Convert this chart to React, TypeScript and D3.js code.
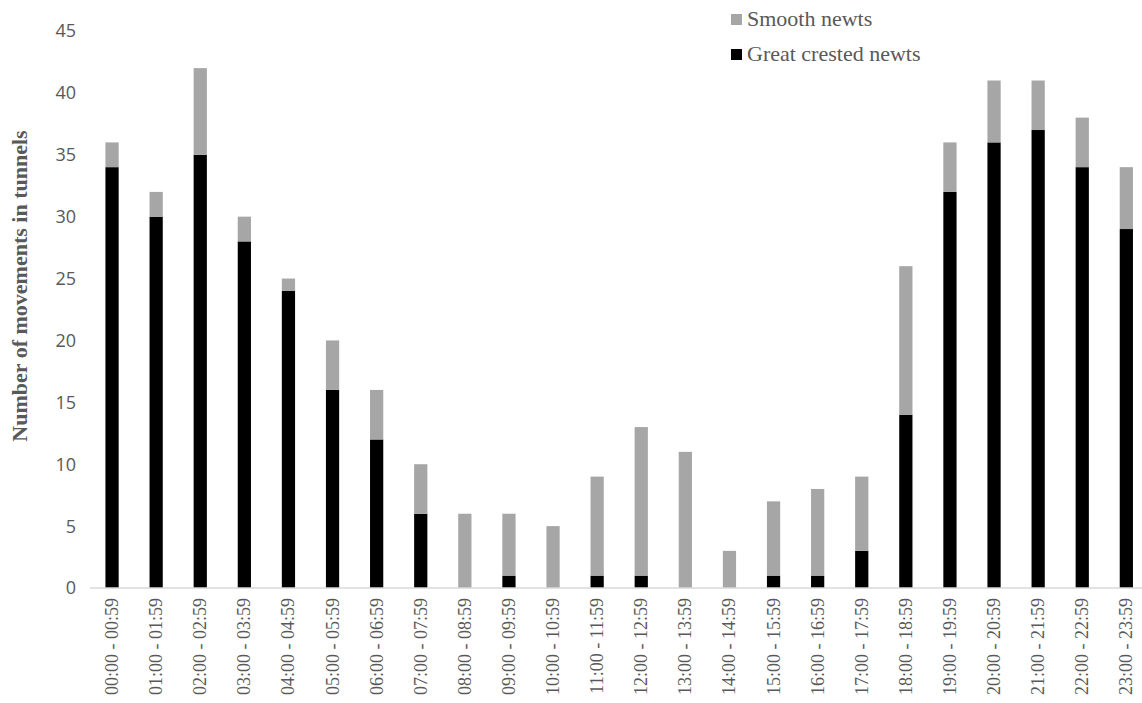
import React from "react";
import * as d3 from "d3";

const categories = [
  "00:00 - 00:59", "01:00 - 01:59", "02:00 - 02:59", "03:00 - 03:59",
  "04:00 - 04:59", "05:00 - 05:59", "06:00 - 06:59", "07:00 - 07:59",
  "08:00 - 08:59", "09:00 - 09:59", "10:00 - 10:59", "11:00 - 11:59",
  "12:00 - 12:59", "13:00 - 13:59", "14:00 - 14:59", "15:00 - 15:59",
  "16:00 - 16:59", "17:00 - 17:59", "18:00 - 18:59", "19:00 - 19:59",
  "20:00 - 20:59", "21:00 - 21:59", "22:00 - 22:59", "23:00 - 23:59",
];
const greatCrested = [34, 30, 35, 28, 24, 16, 12, 6, 0, 1, 0, 1, 1, 0, 0, 1, 1, 3, 14, 32, 36, 37, 34, 29];
const smooth = [2, 2, 7, 2, 1, 4, 4, 4, 6, 5, 5, 8, 12, 11, 3, 6, 7, 6, 12, 4, 5, 4, 4, 5];
const yTicks = [0, 5, 10, 15, 20, 25, 30, 35, 40, 45];
const seriesNames = ["Smooth newts", "Great crested newts"];
const seriesColors = ["#a6a6a6", "#000000"];

const W = 1142;
const H = 703;
const x0 = 90;
const step = 44.1;

export default function App() {
  const x = d3.scaleBand<string>()
    .domain(categories)
    .range([x0, x0 + step * categories.length])
    .paddingInner(0.7)
    .paddingOuter(0.35);
  const y = d3.scaleLinear().domain([0, 45]).range([588, 31]);
  const rows = categories.map((c, i) => ({ c, great: greatCrested[i], smooth: smooth[i] }));
  const stack = d3.stack<any>().keys(["great", "smooth"])(rows);
  const colorByKey: Record<string, string> = { great: seriesColors[1], smooth: seriesColors[0] };
  const textColor = "#595959";

  return (
    <svg width={W} height={H} style={{ position: "absolute", left: 0, top: 0, background: "#fff" }}>
      {yTicks.map((t) => (
        <text key={t} x={76} y={y(t)} dy="0.36em" textAnchor="end"
          fontFamily="'Open Sans', sans-serif" fontSize={18} fill={textColor}>{t}</text>
      ))}
      <text transform={`translate(27,286) rotate(-90)`} textAnchor="middle"
        fontFamily="'Liberation Serif', serif" fontWeight="bold" fontSize={22} fill={textColor}>
        Number of movements in tunnels
      </text>
      {stack.map((layer) => (
        <g key={layer.key} fill={colorByKey[layer.key]}>
          {layer.map((d, i) => (
            d[1] - d[0] > 0 ? (
              <rect key={i} x={x(categories[i])} width={x.bandwidth()}
                y={y(d[1])} height={y(d[0]) - y(d[1])} />
            ) : null
          ))}
        </g>
      ))}
      <line x1={x0} x2={W} y1={y(0)} y2={y(0)} stroke="#d9d9d9" strokeWidth={1.5} />
      {categories.map((c) => (
        <text key={c}
          transform={`translate(${(x(c) as number) + x.bandwidth() / 2},598) rotate(-90)`}
          dy="0.33em" textAnchor="end"
          fontFamily="'Liberation Serif', serif" fontSize={18} fill={textColor}>{c}</text>
      ))}
      {seriesNames.map((n, i) => (
        <g key={n} transform={`translate(731,${14 + i * 35})`}>
          <rect width={11} height={11} fill={seriesColors[i]} />
          <text x={16} y={12} fontFamily="'Liberation Serif', serif" fontSize={22} fill={textColor}>{n}</text>
        </g>
      ))}
    </svg>
  );
}
